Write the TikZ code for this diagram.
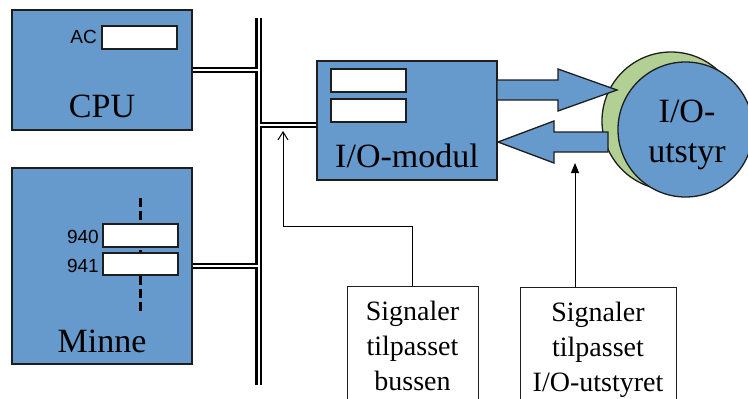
\documentclass[tikz,border=0pt]{standalone}
\usepackage{fontspec}
\setmainfont{Liberation Serif}
\newfontfamily\arialf{Liberation Sans}
\usetikzlibrary{arrows.meta}
\definecolor{boxblue}{RGB}{102,153,204}
\definecolor{shadegreen}{RGB}{178,207,148}
\definecolor{edge}{RGB}{30,30,30}
\begin{document}
\begin{tikzpicture}[x=1pt,y=-1pt,
 unit/.style={draw=edge, line width=1.5pt, fill=boxblue, inner sep=0, minimum width=180pt},
 reg/.style={draw=edge, line width=1.1pt, fill=white, inner sep=0, minimum width=75pt, minimum height=23pt},
 big/.style={font=\fontsize{34}{40}\selectfont, inner sep=0},
 small/.style={font=\arialf\fontsize{19}{22}\selectfont, inner sep=0},
 buswire/.style={draw=black, line width=2.3pt, double=white, double distance=2pt},
 link/.style={draw=black, line width=1.9pt, double=white, double distance=1.8pt},
 blockarrow/.style={draw=edge, line width=1.3pt, fill=boxblue, line join=miter},
 device/.style={circle, draw=edge, line width=1.3pt, inner sep=0},
 note/.style={draw=edge, line width=1pt, fill=white, inner xsep=0, inner ysep=15pt, align=center, font=\fontsize{28}{35}\selectfont, anchor=north},
 pointer/.style={draw=black, line width=1pt}
]
\useasboundingbox (0,0) rectangle (748,399);

% CPU
\node[unit, minimum height=120pt] (cpu) at (102,70) {};
\node[reg] (ac) at (139.5,37.5) {};
\node[small, anchor=base east] (aclbl) at (97,43) {AC};
\node[big, anchor=base] (cpulbl) at (102,117) {CPU};

% Minne
\node[unit, minimum height=196pt] (minne) at (102,266) {};
\coordinate (dashtop) at (140.5,198);
\coordinate (dashbot) at (140.5,312);
\draw[line width=2.2pt, dash pattern=on 9pt off 4pt] (dashtop) -- (dashbot);
\node[reg] (m940) at (140.5,235.5) {};
\node[reg, minimum height=22pt] (m941) at (140.5,264) {};
\node[small, anchor=base east] (l940) at (99,243) {940};
\node[small, anchor=base east] (l941) at (99,272) {941};
\node[big, anchor=base] (minnelbl) at (102,352) {Minne};

% I/O-modul
\node[unit, minimum height=119pt] (iom) at (407,120.5) {};
\node[reg] (reg1) at (368.5,80.5) {};
\node[reg] (reg2) at (368.5,110.5) {};
\node[big, anchor=base] (iomlbl) at (407,167) {I/O-modul};

% Bus
\coordinate (bustop) at (258.5,18);
\coordinate (busbot) at (258.5,385);
\draw[buswire] (bustop) -- (busbot);
\draw[link] (cpu.east) -- ([xshift=-1pt]cpu.east -| bustop);
\draw[link] (minne.east) -- ([xshift=-1pt]minne.east -| bustop);
\draw[link] ([yshift=-4.5pt]iom.west) -- ([xshift=1pt,yshift=-4.5pt]iom.west -| bustop);

% I/O-utstyr
\node[device, fill=shadegreen, minimum size=138pt] (devshade) at (671,121) {};
\node[device, fill=boxblue, minimum size=135pt] (dev) at (685.5,129.5) {};
\node[big, align=center, anchor=north] (devlbl) at (687,100) {I/O-\\utstyr};

% block arrows
\draw[blockarrow] (497,80) -- (558,80) -- (558,69) -- (617,90) -- (558,111) -- (558,100) -- (497,100) -- cycle;
\draw[blockarrow] (608,132) -- (554,132) -- (554,121) -- (498,142) -- (554,163) -- (554,152) -- (608,152) -- cycle;

% callouts
\node[note, minimum width=131pt] (sig1) at (412.5,286) {Signaler\\tilpasset\\bussen};
\node[note, minimum width=156pt] (sig2) at (598,287) {Signaler\\tilpasset\\I/O-utstyret};
\coordinate (bend1) at (283,226);
\coordinate (tip1) at (283,131);
\draw[pointer, -{Straight Barb[length=8pt,width=10pt]}] (sig1.north) |- (bend1) -- (tip1);
\coordinate (tip2) at (575,163);
\draw[pointer, -{Triangle[length=10pt,width=8pt]}] (sig2.north -| tip2) -- (tip2);
\end{tikzpicture}
\end{document}
